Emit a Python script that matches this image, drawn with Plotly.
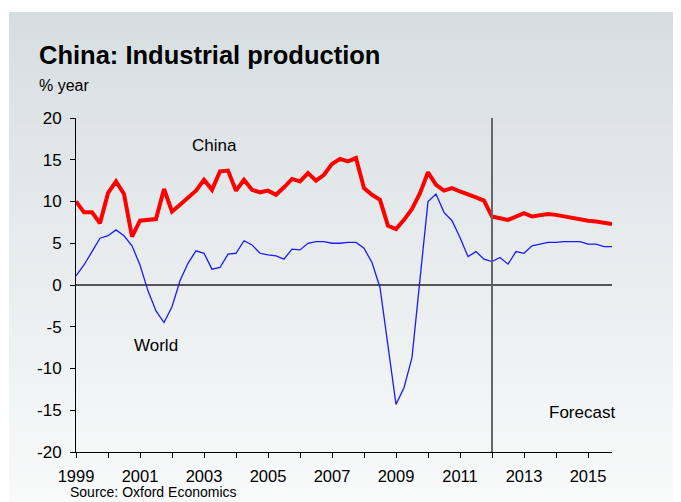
import plotly.graph_objects as go

# quarterly, 1999 Q1 .. 2015 Q4
years = [1999 + i * 0.25 for i in range(68)]

china = [10.0, 8.7, 8.7, 7.4, 11.0, 12.4, 10.9, 5.8,
         7.7, 7.8, 7.9, 11.5, 8.8, 9.6, 10.4, 11.3,
         12.6, 11.4, 13.6, 13.7, 11.3, 12.6, 11.4, 11.1,
         11.3, 10.8, 11.7, 12.7, 12.4, 13.4, 12.5, 13.2,
         14.5, 15.1, 14.8, 15.2, 11.6, 10.8, 10.2, 7.1,
         6.7, 7.8, 9.1, 11.0, 13.5, 12.0, 11.3, 11.6,
         11.2, 10.9, 10.5, 10.1, 8.2, 8.0, 7.8, 8.2,
         8.6, 8.2, 8.4, 8.5, 8.4, 8.2, 8.0, 7.9,
         7.7, 7.6, 7.4, 7.3]

world = [1.1, 2.4, 4.0, 5.6, 5.9, 6.6, 5.9, 4.7,
         2.4, -0.7, -3.1, -4.5, -2.6, 0.5, 2.6, 4.1,
         3.8, 1.9, 2.1, 3.7, 3.8, 5.3, 4.8, 3.8,
         3.6, 3.5, 3.1, 4.3, 4.2, 5.0, 5.2, 5.2,
         5.0, 5.0, 5.1, 5.1, 4.4, 2.7, -0.3, -7.1,
         -14.3, -12.3, -8.7, 0.7, 10.0, 10.9, 8.7, 7.7,
         5.7, 3.4, 4.0, 3.1, 2.8, 3.3, 2.5, 4.0,
         3.8, 4.7, 4.9, 5.1, 5.1, 5.2, 5.2, 5.2,
         4.9, 4.9, 4.6, 4.6]

tick_years = list(range(1999, 2016))
tick_text = [str(y) if y % 2 == 1 else "" for y in tick_years]
y_ticks = [-20, -15, -10, -5, 0, 5, 10, 15, 20]
y_text = [str(v) for v in y_ticks]   # plain hyphen, as in the original
forecast_start = 2012

# page puts the figure 8px in from the top-left corner
W, H = 681, 502
OFF = 8
X0, X1, Y0, Y1 = 76, 612, 118, 452   # plot box in window pixels
FONT = "Liberation Sans, Arial, sans-serif"


def px(x):
    return (x - X0) / (X1 - X0)


def py(y):
    return (Y1 - y) / (Y1 - Y0)


fig = go.Figure()
fig.add_trace(go.Scatter(x=years, y=world, mode="lines", name="World",
                         line=dict(color="#1a1aff", width=1.3)))
fig.add_trace(go.Scatter(x=years, y=china, mode="lines", name="China",
                         line=dict(color="#ff0000", width=4)))

# gradient panel background
shapes = []
n = 70
top, bot = 12, H
c0, c1 = (214, 222, 225), (249, 250, 250)
for i in range(n):
    y0 = top + (bot - top) * i / n
    y1 = top + (bot - top) * (i + 1) / n + 0.5
    f = i / (n - 1)
    c = tuple(round(a + (b - a) * f) for a, b in zip(c0, c1))
    shapes.append(dict(type="rect", xref="paper", yref="paper", layer="below",
                       x0=px(9), x1=px(W + 2), y0=py(y1), y1=py(y0),
                       line=dict(width=0), fillcolor="rgb(%d,%d,%d)" % c))
shapes.append(dict(type="line", xref="x", yref="y", x0=forecast_start, x1=forecast_start,
                   y0=-20, y1=20, line=dict(color="#666666", width=2)))

annotations = [
    dict(text="<b>China: Industrial production</b>", x=px(37), y=py(55), xref="paper", yref="paper",
         xanchor="left", yanchor="middle", showarrow=False, font=dict(size=25.5, color="black")),
    dict(text="% year", x=px(37), y=py(86), xref="paper", yref="paper",
         xanchor="left", yanchor="middle", showarrow=False, font=dict(size=16, color="black")),
    dict(text="Source: Oxford Economics", x=px(68), y=py(502), xref="paper", yref="paper",
         xanchor="left", yanchor="bottom", showarrow=False, font=dict(size=14, color="black")),
    dict(text="China", x=2003.33, y=16.7, xref="x", yref="y", showarrow=False,
         font=dict(size=17, color="black")),
    dict(text="World", x=2001.5, y=-7.3, xref="x", yref="y", showarrow=False,
         font=dict(size=17, color="black")),
    dict(text="Forecast", x=2014.8, y=-15.3, xref="x", yref="y", showarrow=False,
         font=dict(size=17, color="black")),
]

fig.update_layout(
    width=W - OFF, height=H - OFF,
    margin=dict(l=X0 - OFF, r=W - X1, t=Y0 - OFF, b=H - Y1),
    paper_bgcolor="white", plot_bgcolor="rgba(0,0,0,0)",
    font=dict(family=FONT, color="black"),
    showlegend=False,
    shapes=shapes, annotations=annotations,
)
fig.update_xaxes(range=[1999, 2015.75], tickmode="array", tickvals=tick_years, ticktext=tick_text,
                 ticks="outside", ticklen=5, tickcolor="black", showline=True, linecolor="black",
                 linewidth=1, showgrid=False, zeroline=False, tickfont=dict(size=16.5),
                 ticklabelstandoff=4)
fig.update_yaxes(range=[-20, 20], tickmode="array", tickvals=y_ticks, ticktext=y_text,
                 ticks="outside", ticklen=5, tickcolor="black",
                 showline=True, linecolor="black", linewidth=1, showgrid=False,
                 zeroline=True, zerolinecolor="#555555", zerolinewidth=2,
                 tickfont=dict(size=17), ticklabelstandoff=5)

fig.write_html("out.html", config=dict(displayModeBar=False))
